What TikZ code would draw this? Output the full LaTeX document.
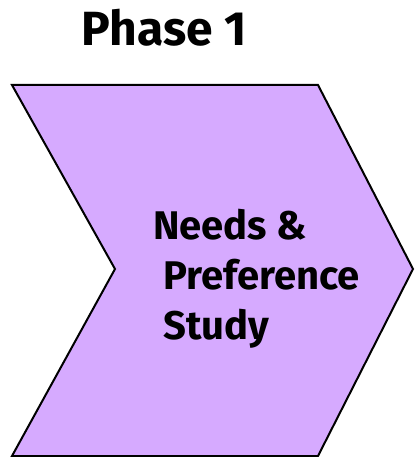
\documentclass[tikz,border=0pt]{standalone}
\usepackage{fontspec}
\setmainfont{Fira Sans}
\definecolor{lavender}{RGB}{214,170,255}

\begin{document}
\begin{tikzpicture}[x=1pt,y=-1pt,
  phaseshape/.style={draw=black,fill=lavender,line width=2pt,line join=miter},
  title/.style={font=\bfseries\fontsize{48}{52}\selectfont,anchor=base},
  body/.style={font=\bfseries\fontsize{40}{50}\selectfont,align=left,anchor=north west,inner sep=0pt}]
\useasboundingbox (0,0) rectangle (415,457);
\node[title] (phase) at (164,46) {Phase 1};
\draw[phaseshape] (12,85) -- (318,85) -- (413,269) -- (318,456) -- (12,456) -- (115,269) -- cycle;
\node[body] (study) at (153,209) {Needs \&\\\hspace{10pt}Preference\\\hspace{10pt}Study};
\end{tikzpicture}
\end{document}
